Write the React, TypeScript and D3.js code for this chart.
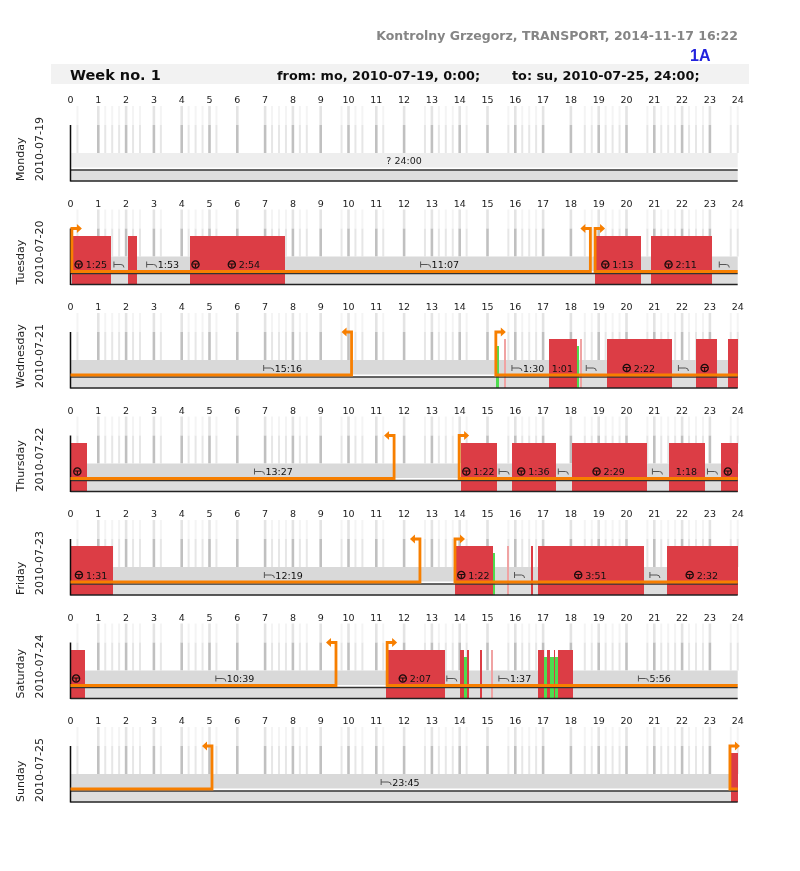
import React, { useEffect, useRef } from "react";
import * as d3 from "d3";

type Seg = [number, number, string | null];
type Span = [number, number];

const dayNames = ["Monday", "Tuesday", "Wednesday", "Thursday", "Friday", "Saturday", "Sunday"];
const dates = ["2010-07-19", "2010-07-20", "2010-07-21", "2010-07-22", "2010-07-23", "2010-07-24", "2010-07-25"];
const hours = d3.range(0, 25);
const gridHours = d3.range(1, 24);
const quarterHours = [
    0.25, 1.25, 1.5, 1.75, 2.25, 2.5, 3.25, 4.25, 4.5, 4.75, 5.25, 7.25, 7.5, 7.75, 8.25, 8.5,
    9.75, 10.25, 10.5, 11.25, 12.75, 13.25, 13.5, 13.75, 14.25, 15.75, 16.25, 16.5, 16.75,
    18.5, 18.75, 19.25, 19.5, 19.75, 20.75, 21.25, 21.5, 21.75, 22.25, 22.5, 22.75, 23.75, 24,
];

// driving periods per day: [from, to, label]; null = icon only, "" = nothing
const driving: Seg[][] = [
    [],
    [[0.05, 1.45, "1:25"], [2.07, 2.38, ""], [4.3, 4.8, null], [4.8, 7.72, "2:54"], [18.87, 20.52, "1:13"], [20.87, 23.07, "2:11"]],
    [[17.21, 18.21, "1:01"], [19.29, 21.64, "2:22"], [22.49, 23.24, null], [23.64, 24, ""]],
    [[0, 0.6, null], [14.04, 15.35, "1:22"], [15.88, 17.46, "1:36"], [18.03, 20.73, "2:29"], [21.53, 22.82, "1:18"], [23.4, 24, null]],
    [[0, 1.52, "1:31"], [13.83, 15.2, "1:22"], [16.57, 16.65, ""], [16.82, 20.62, "3:51"], [21.46, 24, "2:32"]],
    [[0, 0.51, null], [11.35, 13.47, "2:07"], [14, 14.17, ""], [14.25, 14.34, ""], [14.73, 14.8, ""], [16.82, 17.04, ""], [17.15, 17.24, ""], [17.38, 17.43, ""], [17.55, 18.06, ""]],
    [[23.75, 24, ""]],
];
const plainDriveLabels = ["1:01", "1:18"];

// rest periods per day
const resting: Seg[][] = [
    [],
    [[1.45, 2.07, null], [2.38, 4.3, "1:53"], [7.72, 18.87, "11:07"], [23.07, 24, null]],
    [[0, 15.3, "15:16"], [15.75, 17.21, "1:30"], [18.21, 19.29, null], [21.64, 22.49, null]],
    [[0.6, 14.04, "13:27"], [15.35, 15.88, null], [17.46, 18.03, null], [20.73, 21.53, null], [22.82, 23.4, null]],
    [[1.52, 13.83, "12:19"], [15.74, 16.6, null], [20.62, 21.46, null]],
    [[0.51, 11.35, "10:39"], [13.47, 14, null], [15.2, 16.82, "1:37"], [18.06, 24, "5:56"]],
    [[0, 23.75, "23:45"]],
];

const shortBreaks: Span[][] = [[], [], [[15.59, 15.67], [18.32, 18.4]], [], [[15.7, 15.78]], [[15.11, 15.19]], []];
const otherWork: Span[][] = [
    [], [],
    [[15.3, 15.4], [18.21, 18.28]],
    [],
    [[15.2, 15.27]],
    [[14.17, 14.25], [17.04, 17.15], [17.24, 17.38], [17.43, 17.55]],
    [],
];

// card in / card out lines
const shifts: Span[][] = [
    [],
    [[0.05, 18.7], [18.87, 24]],
    [[0, 10.11], [15.3, 24]],
    [[0, 11.64], [13.98, 24]],
    [[0, 12.57], [13.83, 24]],
    [[0, 9.55], [11.39, 24]],
    [[0, 5.09], [23.72, 24]],
];

const orange = "#f77f00";
const red = "#dc3e45";
const FONT = "'DejaVu Sans', sans-serif";

const App = () => {
    const ref = useRef<SVGSVGElement>(null);

    useEffect(() => {
        if (!ref.current) return;
        d3.select(ref.current).selectAll("*").remove();
        const svg = d3.select(ref.current);

        svg.append("defs").append("filter").attr("id", "soft")
            .append("feGaussianBlur").attr("stdDeviation", 0.3);
        const root = svg.append("g").attr("filter", "url(#soft)");

        const x = d3.scaleLinear().domain([0, 24]).range([70.5, 737.7]);
        const panelBottom = d3.scaleLinear().domain([0, 6]).range([181, 802]);

        // page header
        root.append("text").attr("x", 738).attr("y", 40).attr("text-anchor", "end")
            .attr("font-family", FONT).attr("font-weight", "bold").attr("font-size", 12.5)
            .attr("fill", "#858585").text("Kontrolny Grzegorz, TRANSPORT, 2014-11-17 16:22");
        root.append("text").attr("x", 690).attr("y", 61)
            .attr("font-family", "'Liberation Sans', sans-serif").attr("font-weight", "bold").attr("font-size", 16)
            .attr("fill", "#2222dd").text("1A");
        root.append("rect").attr("x", 51).attr("y", 64).attr("width", 698).attr("height", 20).attr("fill", "#f2f2f2");
        const headerText = (tx: number, size: number, s: string) =>
            root.append("text").attr("x", tx).attr("y", 80)
                .attr("font-family", FONT).attr("font-weight", "bold").attr("font-size", size)
                .attr("fill", "#111").text(s);
        headerText(70, 14.5, "Week no. 1");
        headerText(277, 12.8, "from: mo, 2010-07-19, 0:00;");
        headerText(512, 12.8, "to: su, 2010-07-25, 24:00;");

        const wheel = (g: d3.Selection<SVGGElement, unknown, null, undefined>, cx: number, cy: number) => {
            const w = g.append("g").attr("transform", `translate(${cx},${cy})`)
                .attr("fill", "none").attr("stroke", "#1a0c0c");
            w.append("circle").attr("r", 3.6).attr("stroke-width", 1.3);
            w.append("path").attr("d", "M-3,-0.5H3M0,-0.5V3").attr("stroke-width", 1.1);
        };
        const bed = (g: d3.Selection<SVGGElement, unknown, null, undefined>, cx: number, cy: number) => {
            g.append("path").attr("transform", `translate(${cx},${cy})`)
                .attr("d", "M-5,-3V3M-5,0H2Q5,0 5,3").attr("fill", "none")
                .attr("stroke", "#555").attr("stroke-width", 1);
        };

        dayNames.forEach((name, i) => {
            const bottom = panelBottom(i);
            const g = root.append("g").attr("transform", `translate(0,${bottom})`);

            // day captions
            [[24, name], [43, dates[i]]].forEach(([tx, s]) => {
                g.append("text").attr("transform", `translate(${tx},0) rotate(-90)`)
                    .attr("font-family", FONT).attr("font-size", 11).attr("fill", "#222").text(s as string);
            });

            // hour labels
            const axis = g.append("g").attr("transform", "translate(-0.5,-78)")
                .call(d3.axisTop(x).tickValues(hours).tickSize(0).tickPadding(0).tickFormat((d) => String(d)));
            axis.select(".domain").remove();
            axis.selectAll("text").attr("font-family", FONT).attr("font-size", 9.5).attr("fill", "#1c1c1c");

            // grid lines
            const gridLine = (list: number[], y1: number, y2: number, color: string, w: number) => {
                g.selectAll(null).data(list).enter().append("line")
                    .attr("x1", (d) => x(d)).attr("x2", (d) => x(d))
                    .attr("y1", y1).attr("y2", y2).attr("stroke", color).attr("stroke-width", w);
            };
            gridLine(quarterHours, -75, -56, "#f4f4f4", 2);
            gridLine(quarterHours, -56, -28, "#e6e6e6", 2);
            gridLine(gridHours, -75, -56, "#e4e4e4", 2.6);
            gridLine(gridHours, -56, -28, "#c0c0c0", 2.6);

            // bands
            g.append("rect").attr("x", x(0)).attr("y", -28).attr("width", x(24) - x(0)).attr("height", 14.5)
                .attr("fill", i === 0 ? "#eeeeee" : "#d9d9d9");
            g.append("rect").attr("x", x(0)).attr("y", -11).attr("width", x(24) - x(0)).attr("height", 10.5)
                .attr("fill", "#dedede");

            // driving blocks
            const spanRect = (list: Span[], top: number, color: string) => {
                g.selectAll(null).data(list).enter().append("rect")
                    .attr("x", (d) => x(d[0])).attr("width", (d) => x(d[1]) - x(d[0]))
                    .attr("y", top).attr("height", -top).attr("fill", color)
                    .attr("shape-rendering", "crispEdges");
            };
            spanRect(driving[i].map((d) => [d[0], d[1]] as Span), -49, red);
            spanRect(shortBreaks[i], -49, "#f0a3a3");
            spanRect(otherWork[i], -42, "#4fdc4f");

            // rows' lines
            g.append("line").attr("x1", x(0)).attr("x2", x(24)).attr("y1", -11).attr("y2", -11)
                .attr("stroke", "#333").attr("stroke-width", 1.5);
            g.append("line").attr("x1", x(0)).attr("x2", x(24)).attr("y1", 0).attr("y2", 0)
                .attr("stroke", "#222").attr("stroke-width", 1.5);
            g.append("line").attr("x1", x(0)).attr("x2", x(0)).attr("y1", -56).attr("y2", 0.5)
                .attr("stroke", "#111").attr("stroke-width", 1.5);

            // segment labels
            const putLabel = (seg: Seg, icon: "wheel" | "bed" | null) => {
                const cx = x((seg[0] + seg[1]) / 2);
                const textW = seg[2] ? seg[2].length * 5.6 : 0;
                const iconW = icon ? 11 : 0;
                const start = cx - (textW + iconW) / 2;
                if (icon === "wheel") wheel(g, start + 4, -20);
                if (icon === "bed") bed(g, start + 5, -20);
                if (seg[2]) {
                    g.append("text").attr("x", start + iconW).attr("y", -16.5)
                        .attr("font-family", FONT).attr("font-size", 9.5).attr("fill", "#111").text(seg[2]);
                }
            };
            resting[i].forEach((s) => {
                if (s[1] - s[0] > 0.5) putLabel(s, "bed");
            });
            driving[i].forEach((s) => {
                if (s[2] === "") return;
                putLabel(s, s[2] && plainDriveLabels.includes(s[2]) ? null : "wheel");
            });
            if (i === 0) {
                g.append("text").attr("x", x(12)).attr("y", -17.5).attr("text-anchor", "middle")
                    .attr("font-family", FONT).attr("font-size", 9.5).attr("fill", "#222").text("? 24:00");
            }

            // shift lines with the card arrows
            const line = d3.line();
            shifts[i].forEach(([from, to]) => {
                const pts: [number, number][] = [];
                if (from > 0) pts.push([x(from) + 6, -56], [x(from), -56]);
                pts.push([x(from), -13], [x(to), -13]);
                if (to < 24) pts.push([x(to), -56], [x(to) - 6, -56]);
                g.append("path").attr("d", line(pts)).attr("fill", "none")
                    .attr("stroke", orange).attr("stroke-width", 2.8);
                const head = (tip: number, base: number) =>
                    g.append("path").attr("d", line([[tip, -56], [base, -60.5], [base, -51.5]]) + "Z").attr("fill", orange);
                if (from > 0) head(x(from) + 10, x(from) + 5);
                if (to < 24) head(x(to) - 10, x(to) - 5);
            });
        });
    }, []);

    return (
        <svg
            ref={ref}
            width={800}
            height={871}
            style={{ position: "absolute", left: 0, top: 0, background: "#fff" }}
        />
    );
};

export default App;
